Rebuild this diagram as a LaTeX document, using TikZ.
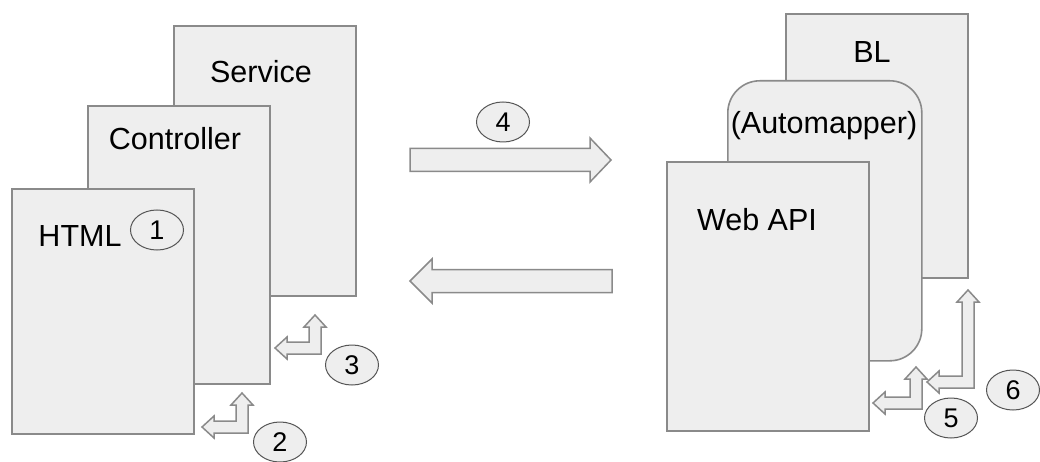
\documentclass[tikz,border=0pt]{standalone}
\usepackage{fontspec}
\setmainfont{Liberation Sans}
\usetikzlibrary{shapes.geometric}

\definecolor{boxfill}{HTML}{EEEEEE}
\definecolor{boxline}{HTML}{8A8A8A}
\definecolor{tagline}{HTML}{555555}

\tikzset{
    layer/.style={rectangle, draw=boxline, fill=boxfill, line width=1.6pt,
        inner sep=0pt, anchor=north west},
    layertext/.style={font=\fontsize{30.5}{34}\selectfont, inner sep=0pt, anchor=base},
    tag/.style={ellipse, draw=tagline, fill=boxfill, line width=1pt,
        minimum width=53pt, minimum height=40pt, inner sep=0pt,
        font=\fontsize{27}{30}\selectfont},
    flow/.style={draw=boxline, fill=boxfill, line width=1.5pt, line join=miter},
}

% corner x, corner y, left tip x, top tip y
\newcommand{\bendarrow}[4]{%
    \draw[flow] (#1+6,#2+6) -- (#1+6,#4+12) -- (#1+11,#4+12) -- (#1,#4)
        -- (#1-11,#4+12) -- (#1-6,#4+12) -- (#1-6,#2-6) -- (#3+12,#2-6)
        -- (#3+12,#2-11) -- (#3,#2) -- (#3+12,#2+11) -- (#3+12,#2+6) -- cycle;}

\begin{document}
\begin{tikzpicture}[x=1pt, y=-1pt]
\useasboundingbox (0,0) rectangle (1040,462);

    % Client stack
    \node[layer, minimum width=182pt, minimum height=270pt] (service) at (173,25) {};
    \node[layer, minimum width=182pt, minimum height=278pt] (controller) at (87,105) {};
    \node[layer, minimum width=182pt, minimum height=245pt] (html) at (11,188) {};
    \node[layertext] (servicelbl) at (261,83) {Service};
    \node[layertext] (controllerlbl) at (175,150) {Controller};
    \node[layertext] (htmllbl) at (80,247) {HTML};

    % Server stack
    \node[layer, minimum width=182pt, minimum height=264pt] (bl) at (785,13) {};
    \node[layer, rounded corners=32pt, minimum width=194pt, minimum height=280pt] (automapper) at (727,80) {};
    \node[layer, minimum width=202pt, minimum height=269pt] (webapi) at (666,161) {};
    \node[layertext] (bllbl) at (872,63) {BL};
    \node[layertext] (automapperlbl) at (824,134) {(Automapper)};
    \node[layertext] (webapilbl) at (757,230) {Web API};

    % Request / response
    \draw[flow] (410,148.5) -- (590,148.5) -- (590,138) -- (611,160) -- (590,182)
        -- (590,171.5) -- (410,171.5) -- cycle;
    \draw[flow] (612,269.5) -- (432,269.5) -- (432,259) -- (410,281) -- (432,303)
        -- (432,292.5) -- (612,292.5) -- cycle;

    % Calls between layers
    \bendarrow{242}{427}{202}{393}
    \bendarrow{315}{348}{275}{315}
    \bendarrow{916}{403}{873}{367}
    \bendarrow{968}{382}{927}{290}

    % Steps
    \node[tag] (t1) at (157,230) {1};
    \node[tag] (t2) at (280,442) {2};
    \node[tag] (t3) at (352,365) {3};
    \node[tag] (t4) at (503,122) {4};
    \node[tag] (t5) at (951,418) {5};
    \node[tag] (t6) at (1013,390) {6};
\end{tikzpicture}
\end{document}
